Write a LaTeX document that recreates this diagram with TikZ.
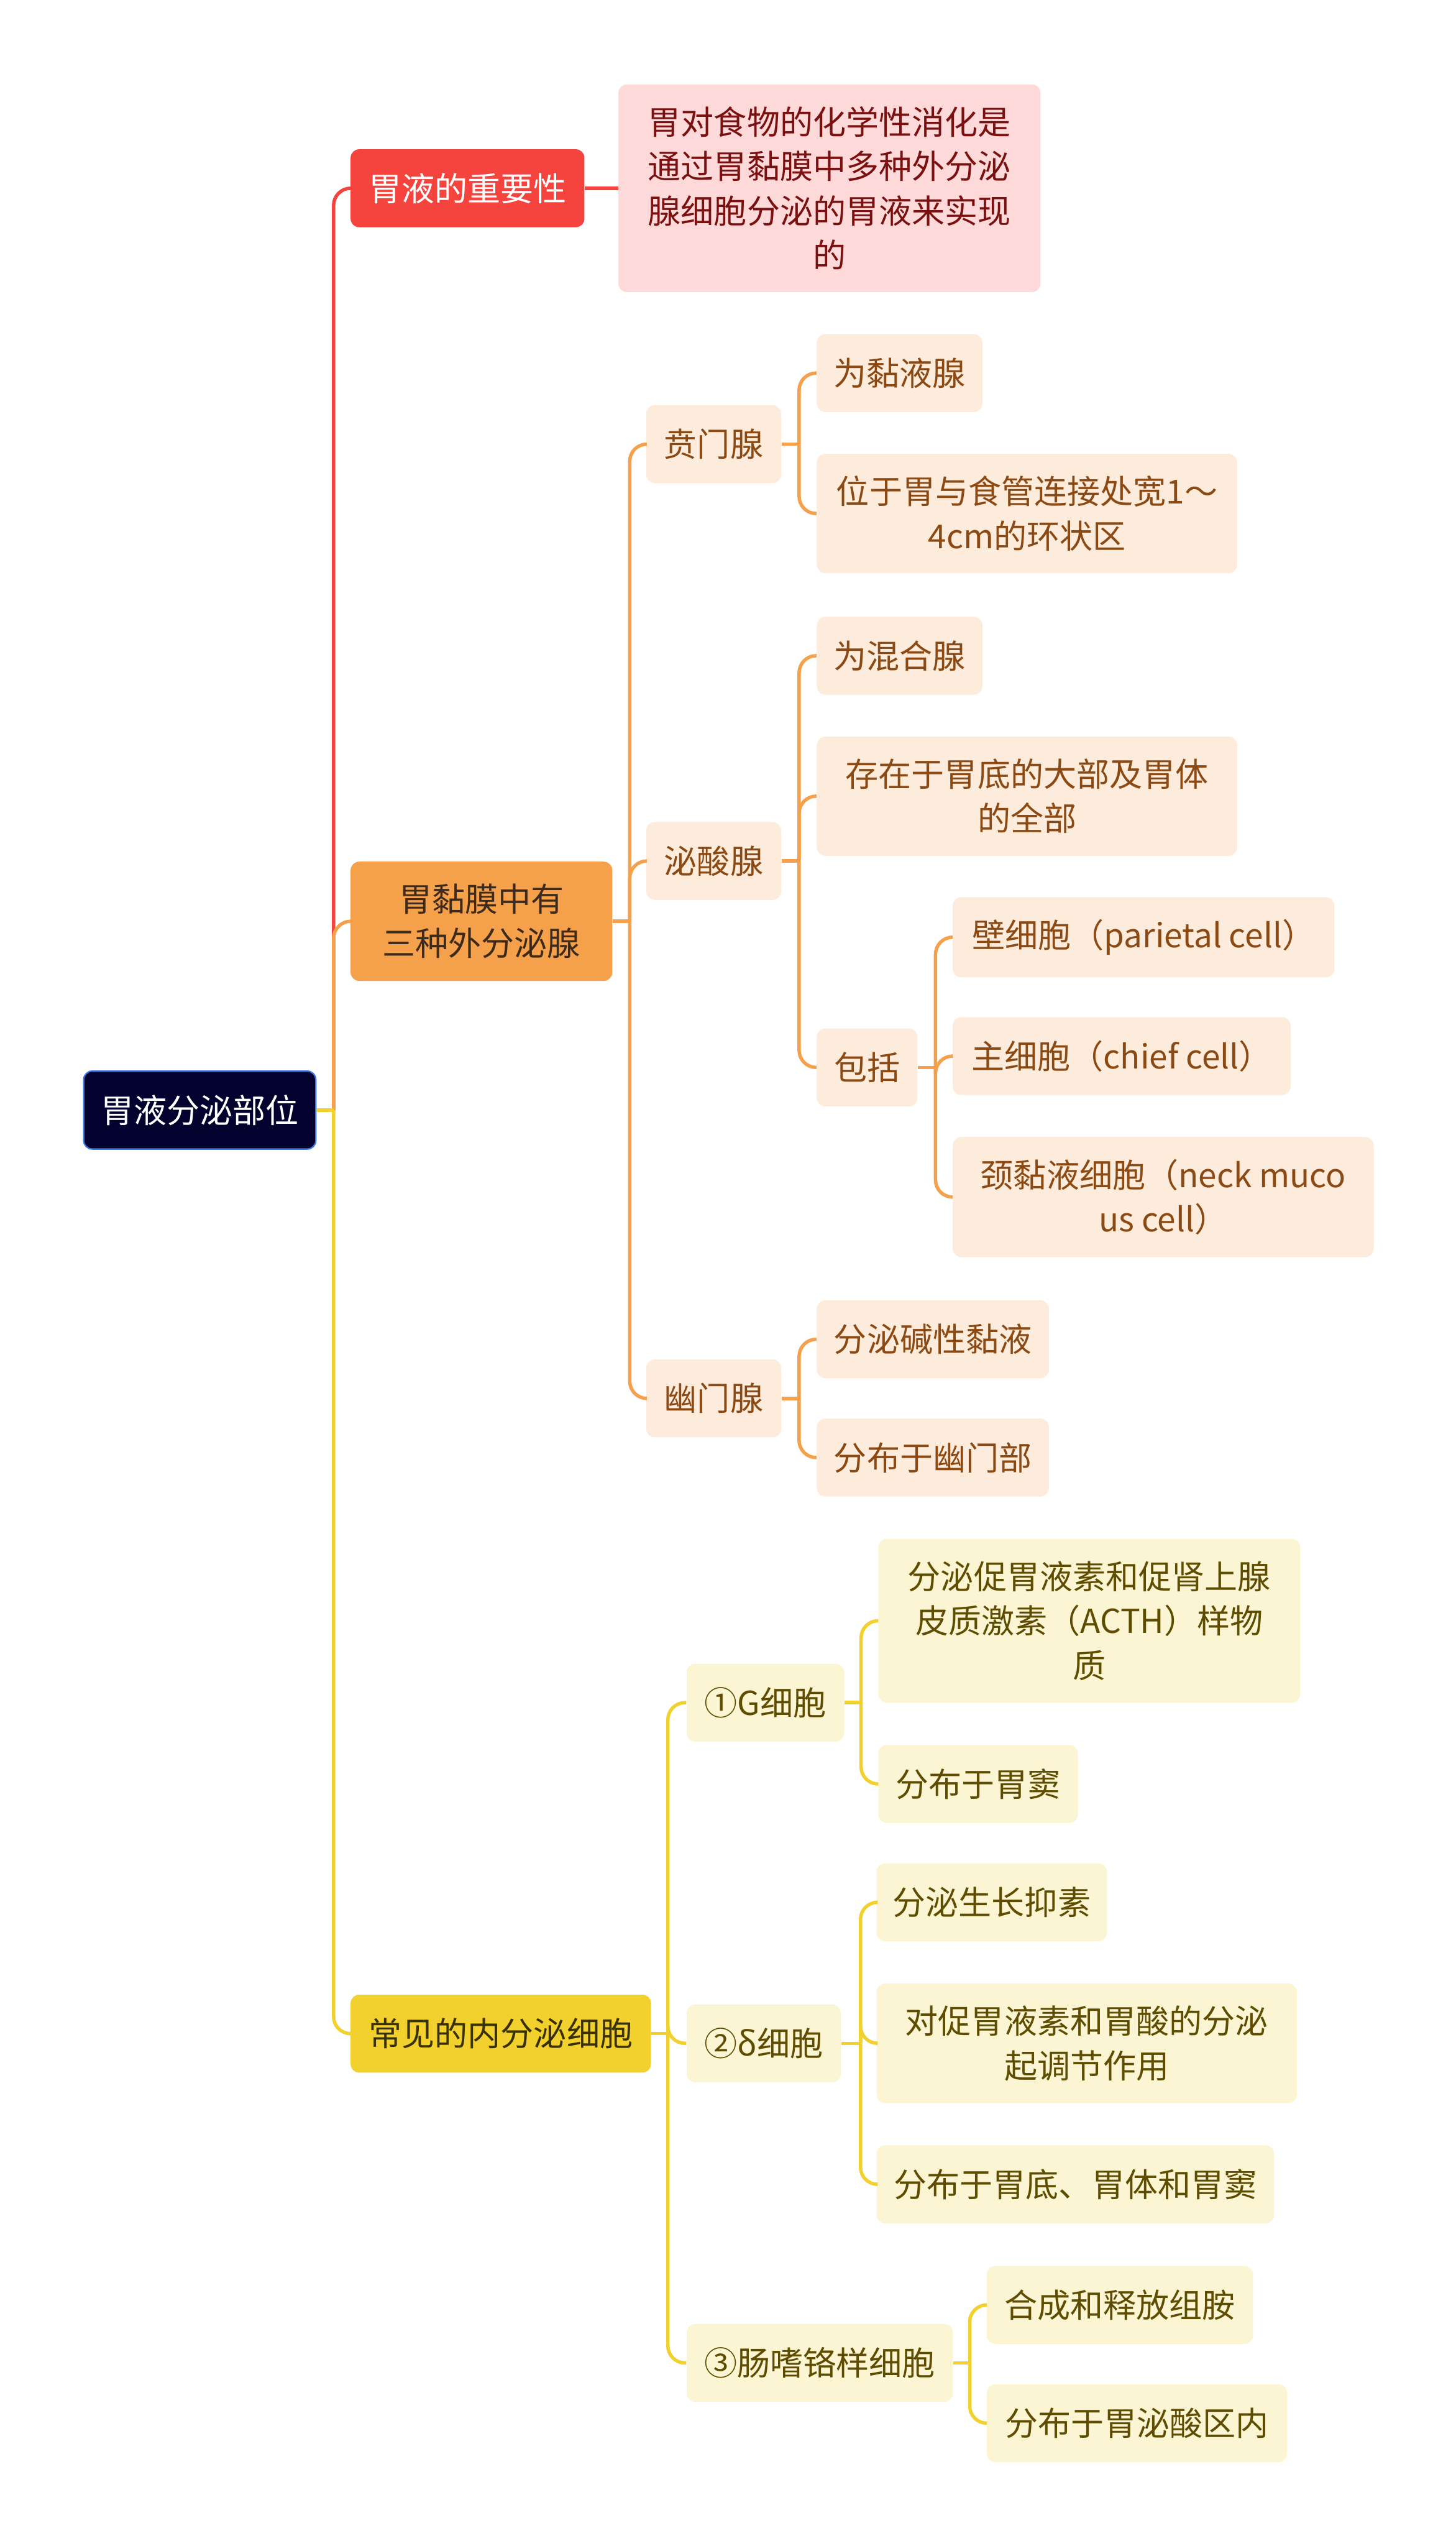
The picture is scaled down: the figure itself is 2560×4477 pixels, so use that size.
\documentclass[tikz,border=0pt]{standalone}
\usepackage{fontspec}
\setmainfont{Noto Sans CJK SC}
\newcommand{\mapfont}{\fontsize{16.5pt}{22.2pt}\selectfont}
\definecolor{cRoot}{HTML}{03022E}
\definecolor{cRootEdge}{HTML}{3A78E0}
\definecolor{cRed}{HTML}{F5443D}
\definecolor{cRedSoft}{HTML}{FDD9D9}
\definecolor{cRedText}{HTML}{7A1010}
\definecolor{cOrg}{HTML}{F5A04B}
\definecolor{cOrgSoft}{HTML}{FDEBDB}
\definecolor{cOrgText}{HTML}{8B4A14}
\definecolor{cOrgDark}{HTML}{3C2A1A}
\definecolor{cYlw}{HTML}{F2D02E}
\definecolor{cYlwSoft}{HTML}{FCF5D4}
\definecolor{cYlwText}{HTML}{5E4D00}
\definecolor{cYlwDark}{HTML}{3A3100}
\begin{document}
\begin{tikzpicture}[x=0.01cm,y=-0.01cm,
  box/.style={anchor=west,rounded corners=0.15cm,align=center,inner xsep=0pt,
    inner ysep=0.39cm,minimum height=1.37cm,font=\mapfont},
  rootbox/.style={box,fill=cRoot,draw=cRootEdge,line width=0.025cm,text=white},
  redbox/.style={box,fill=cRed,text=white},
  redleaf/.style={box,fill=cRedSoft,text=cRedText},
  orgbox/.style={box,fill=cOrg,text=cOrgDark},
  orgleaf/.style={box,fill=cOrgSoft,text=cOrgText},
  ylwbox/.style={box,fill=cYlw,text=cYlwDark},
  ylwleaf/.style={box,fill=cYlwSoft,text=cYlwText},
  link/.style={line width=0.06cm,rounded corners=0.3cm},
  redlink/.style={link,draw=cRed},
  orglink/.style={link,draw=cOrg},
  ylwlink/.style={link,draw=cYlw}]
\useasboundingbox (0,0) rectangle (2560,4477);
\node[rootbox,minimum width=4.08cm] (root) at (146,1952) {胃液分泌部位};
\node[redbox,minimum width=4.11cm] (imp) at (616,331) {胃液的重要性};
\node[redleaf,minimum width=7.42cm] (impdesc) at (1087,331) {胃对食物的化学性消化是\\通过胃黏膜中多种外分泌\\腺细胞分泌的胃液来实现\\的};
\node[orgbox,minimum width=4.60cm] (glands) at (616,1620) {胃黏膜中有\\三种外分泌腺};
\node[ylwbox,minimum width=5.28cm] (endo) at (616,3576) {常见的内分泌细胞};
\node[orgleaf,minimum width=2.37cm] (cardia) at (1136,781) {贲门腺};
\node[orgleaf,minimum width=2.37cm] (oxyn) at (1136,1514) {泌酸腺};
\node[orgleaf,minimum width=2.37cm] (pylor) at (1136,2459) {幽门腺};
\node[orgleaf,minimum width=2.91cm] (c1) at (1436,656) {为黏液腺};
\node[orgleaf,minimum width=7.39cm] (c2) at (1436,903) {位于胃与食管连接处宽1～\\4cm的环状区};
\node[orgleaf,minimum width=2.91cm] (o1) at (1436,1153) {为混合腺};
\node[orgleaf,minimum width=7.39cm] (o2) at (1436,1400) {存在于胃底的大部及胃体\\的全部};
\node[orgleaf,minimum width=1.77cm] (o3) at (1436,1877) {包括};
\node[orgleaf,minimum width=6.71cm] (p1) at (1675,1648) {壁细胞（parietal cell）};
\node[orgleaf,minimum width=5.94cm] (p2) at (1675,1857) {主细胞（chief cell）};
\node[orgleaf,minimum width=7.40cm] (p3) at (1675,2105) {颈黏液细胞（neck muco\\us cell）};
\node[orgleaf,minimum width=4.08cm] (y1) at (1436,2355) {分泌碱性黏液};
\node[orgleaf,minimum width=4.08cm] (y2) at (1436,2563) {分布于幽门部};
\node[ylwleaf,minimum width=2.77cm] (g) at (1207,2994) {①G细胞};
\node[ylwleaf,minimum width=2.71cm] (d) at (1207,3593) {②δ细胞};
\node[ylwleaf,minimum width=4.68cm] (e) at (1207,4155) {③肠嗜铬样细胞};
\node[ylwleaf,minimum width=7.42cm] (g1) at (1544,2850) {分泌促胃液素和促肾上腺\\皮质激素（ACTH）样物\\质};
\node[ylwleaf,minimum width=3.51cm] (g2) at (1544,3137) {分布于胃窦};
\node[ylwleaf,minimum width=4.05cm] (d1) at (1541,3345) {分泌生长抑素};
\node[ylwleaf,minimum width=7.39cm] (d2) at (1541,3593) {对促胃液素和胃酸的分泌\\起调节作用};
\node[ylwleaf,minimum width=6.99cm] (d3) at (1541,3841) {分布于胃底、胃体和胃窦};
\node[ylwleaf,minimum width=4.68cm] (e1) at (1735,4053) {合成和释放组胺};
\node[ylwleaf,minimum width=5.28cm] (e2) at (1735,4261) {分布于胃泌酸区内};
\path (root.east) ++(30,0) coordinate (j0);
\draw[redlink] (j0) |- (imp.west);
\draw[redlink] (imp) -- (impdesc);
\draw[orglink] (j0) |- (glands.west);
\draw[ylwlink] (j0) |- (endo.west);
\draw[ylwlink] (root.east) -- (j0);
\path (glands.east) ++(30,0) coordinate (j1);
\draw[orglink] (glands.east) -- (j1);
\foreach \n in {cardia,oxyn,pylor} \draw[orglink] (j1) |- (\n.west);
\path (cardia.east) ++(31,0) coordinate (j2);
\draw[orglink] (cardia.east) -- (j2);
\foreach \n in {c1,c2} \draw[orglink] (j2) |- (\n.west);
\path (oxyn.east) ++(31,0) coordinate (j3);
\draw[orglink] (oxyn.east) -- (j3);
\foreach \n in {o1,o2,o3} \draw[orglink] (j3) |- (\n.west);
\path (o3.east) ++(31,0) coordinate (j4);
\draw[orglink] (o3.east) -- (j4);
\foreach \n in {p1,p2,p3} \draw[orglink] (j4) |- (\n.west);
\path (pylor.east) ++(31,0) coordinate (j5);
\draw[orglink] (pylor.east) -- (j5);
\foreach \n in {y1,y2} \draw[orglink] (j5) |- (\n.west);
\path (endo.east) ++(29,0) coordinate (j6);
\draw[ylwlink] (endo.east) -- (j6);
\foreach \n in {g,d,e} \draw[ylwlink] (j6) |- (\n.west);
\path (g.east) ++(29,0) coordinate (j7);
\draw[ylwlink] (g.east) -- (j7);
\foreach \n in {g1,g2} \draw[ylwlink] (j7) |- (\n.west);
\path (d.east) ++(34,0) coordinate (j8);
\draw[ylwlink] (d.east) -- (j8);
\foreach \n in {d1,d2,d3} \draw[ylwlink] (j8) |- (\n.west);
\path (e.east) ++(29,0) coordinate (j9);
\draw[ylwlink] (e.east) -- (j9);
\foreach \n in {e1,e2} \draw[ylwlink] (j9) |- (\n.west);
\end{tikzpicture}
\end{document}
